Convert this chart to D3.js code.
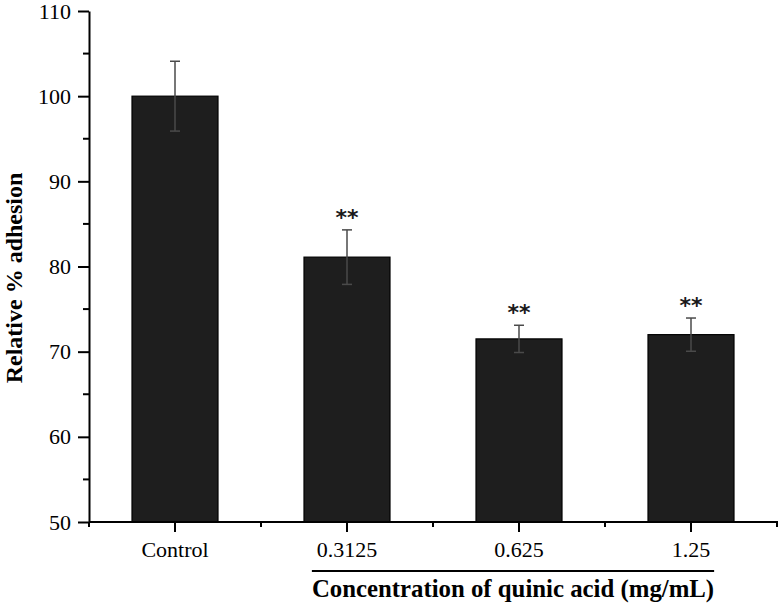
<!DOCTYPE html>
<html><head><meta charset="utf-8">
<script src="https://cdn.jsdelivr.net/npm/d3@7"></script>
<style>body{margin:0;background:#fff}svg{display:block}</style>
</head><body>
<script>
const categories = ["Control", "0.3125", "0.625", "1.25"];
const values = [100, 81.1, 71.5, 72.0];
const errors = [4.1, 3.2, 1.6, 1.95];
const marks = ["", "**", "**", "**"];
const yTicks = [50, 60, 70, 80, 90, 100, 110];
const yMinorTicks = [55, 65, 75, 85, 95, 105];
const yTitle = "Relative % adhesion";
const xTitle = "Concentration of quinic acid (mg/mL)";

const W = 782, H = 609;
const svg = d3.select("body").append("svg").attr("width", W).attr("height", H);
const font = "'Liberation Serif','Times New Roman',serif";

const x = d3.scaleBand().domain(categories).range([89, 777]).paddingInner(0.5).paddingOuter(0.25);
const y = d3.scaleLinear().domain([50, 110]).range([522, 11]);

// bars
svg.selectAll("rect.bar").data(categories).join("rect")
  .attr("x", d => x(d)).attr("width", x.bandwidth())
  .attr("y", (d, i) => y(values[i])).attr("height", (d, i) => y(50) - y(values[i]))
  .attr("fill", "#1e1e1e").attr("stroke", "#000").attr("stroke-width", 1.2);

// error bars
const eb = svg.append("g").attr("stroke", "#4a4a4a").attr("stroke-width", 1.5);
categories.forEach((c, i) => {
  const cx = x(c) + x.bandwidth() / 2;
  eb.append("line").attr("x1", cx).attr("x2", cx).attr("y1", y(values[i] + errors[i])).attr("y2", y(values[i] - errors[i]));
  eb.append("line").attr("x1", cx - 5).attr("x2", cx + 5).attr("y1", y(values[i] + errors[i])).attr("y2", y(values[i] + errors[i]));
  eb.append("line").attr("x1", cx - 5).attr("x2", cx + 5).attr("y1", y(values[i] - errors[i])).attr("y2", y(values[i] - errors[i]));
  if (marks[i]) {
    svg.append("text").attr("x", cx).attr("y", y(values[i] + errors[i]) - 5)
      .attr("text-anchor", "middle").attr("font-family", "'DejaVu Sans',sans-serif").attr("font-size", 22)
      .attr("font-weight", "bold").attr("fill", "#1a1a1a").text(marks[i]);
  }
});

// y axis
const yAxis = d3.axisLeft(y).tickValues(yTicks).tickSize(11).tickSizeOuter(0).tickPadding(7);
const gy = svg.append("g").attr("transform", "translate(89,0)").call(yAxis);
gy.selectAll("text").attr("font-family", font).attr("font-size", 22).attr("fill", "#000");
gy.selectAll("line").attr("stroke", "#000").attr("stroke-width", 2);
gy.select(".domain").attr("stroke", "#000").attr("stroke-width", 2);
gy.selectAll("line.minor").data(yMinorTicks).join("line").attr("class", "minor")
  .attr("x1", -6).attr("x2", 0).attr("y1", d => y(d)).attr("y2", d => y(d))
  .attr("stroke", "#000").attr("stroke-width", 2);

// x axis
const xAxis = d3.axisBottom(x).tickSize(10).tickSizeOuter(0).tickPadding(9);
const gx = svg.append("g").attr("transform", "translate(0,522)").call(xAxis);
gx.selectAll("text").attr("font-family", font).attr("font-size", 22).attr("fill", "#000");
gx.selectAll("line").attr("stroke", "#000").attr("stroke-width", 2);
gx.select(".domain").attr("stroke", "#000").attr("stroke-width", 2).attr("d", "M89,0H778");
const bounds = categories.map(c => x(c) - x.step() * x.paddingInner() / 2).concat([x(categories[3]) + x.bandwidth() + x.step() * x.paddingInner() / 2]);
gx.selectAll("line.minor").data(bounds).join("line").attr("class", "minor")
  .attr("x1", d => d).attr("x2", d => d).attr("y1", 0).attr("y2", 5)
  .attr("stroke", "#000").attr("stroke-width", 2);

// y title
svg.append("text").attr("transform", "translate(22,278) rotate(-90)")
  .attr("text-anchor", "middle").attr("font-family", font).attr("font-weight", "bold")
  .attr("font-size", 24).attr("fill", "#000").text(yTitle);

// x title with line above
const xt = svg.append("text").attr("x", 513).attr("y", 597)
  .attr("text-anchor", "middle").attr("font-family", font).attr("font-weight", "bold")
  .attr("font-size", 24.8).attr("fill", "#000").text(xTitle);
const bb = xt.node().getBBox();
svg.append("line").attr("x1", bb.x).attr("x2", bb.x + bb.width).attr("y1", 571).attr("y2", 571)
  .attr("stroke", "#000").attr("stroke-width", 2);
</script>
</body></html>
